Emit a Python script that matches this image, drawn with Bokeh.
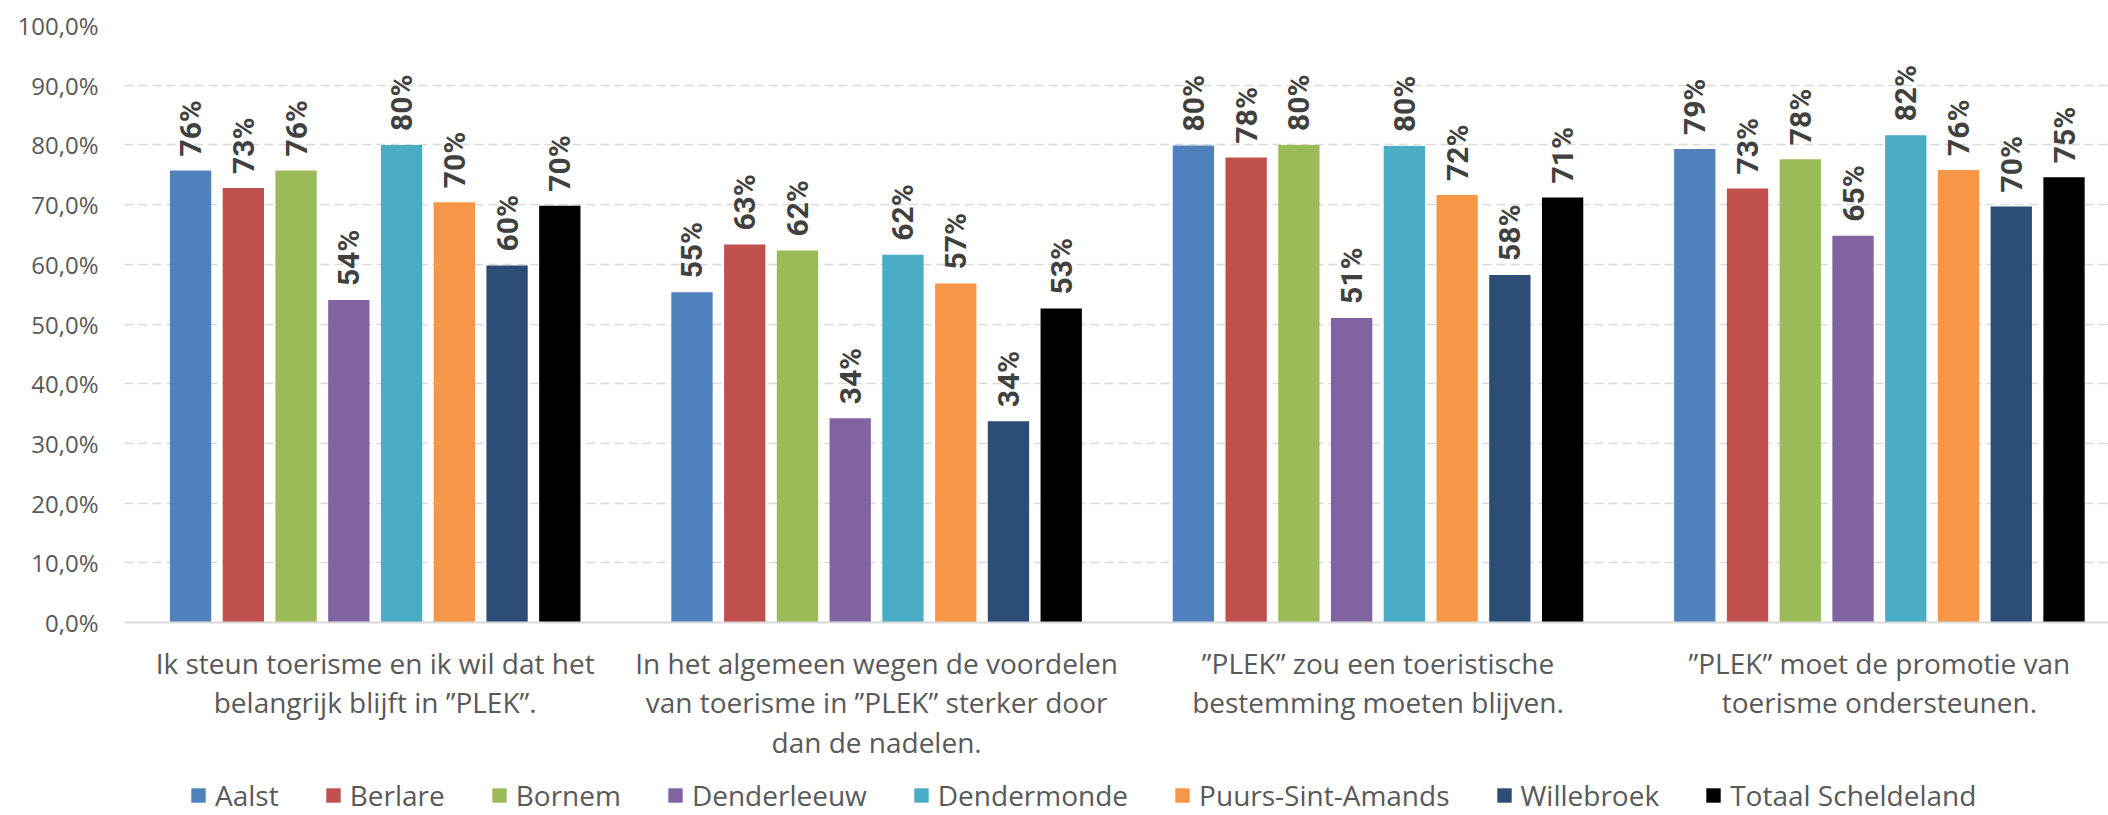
import math
from bokeh.plotting import figure
from bokeh.layouts import column
from bokeh.models import (ColumnDataSource, Range1d, FixedTicker, CustomJSTickFormatter,
                          Legend, LegendItem)
from bokeh.core.properties import value
from bokeh.embed import file_html
from bokeh.resources import INLINE

categories = [
    "Ik steun toerisme en ik wil dat het\nbelangrijk blijft in \u201dPLEK\u201d.",
    "In het algemeen wegen de voordelen\nvan toerisme in \u201dPLEK\u201d sterker door\ndan de nadelen.",
    "\u201dPLEK\u201d zou een toeristische\nbestemming moeten blijven.",
    "\u201dPLEK\u201d moet de promotie van\ntoerisme ondersteunen.",
]
series_names = ["Aalst", "Berlare", "Bornem", "Denderleeuw", "Dendermonde",
                "Puurs-Sint-Amands", "Willebroek", "Totaal Scheldeland"]
series_colors = ["#4F81BD", "#C0504D", "#9BBB59", "#8064A2", "#4BACC6",
                 "#F79646", "#2C4D75", "#000000"]

aalst = [75.7, 55.3, 79.9, 79.3]
berlare = [72.8, 63.3, 77.9, 72.7]
bornem = [75.7, 62.3, 80.0, 77.6]
denderleeuw = [54.0, 34.2, 51.0, 64.8]
dendermonde = [80.0, 61.6, 79.8, 81.6]
puurs = [70.4, 56.8, 71.6, 75.8]
willebroek = [59.8, 33.7, 58.2, 69.7]
totaal = [69.8, 52.6, 71.2, 74.6]
series_values = [aalst, berlare, bornem, denderleeuw, dendermonde, puurs, willebroek, totaal]

y_ticks = [0, 10, 20, 30, 40, 50, 60, 70, 80, 90, 100]

W = 2108
H_MAIN, H_LEG = 768, 47
left_border, top_border = 124, 25
frame_h = 597
cat_px = 501.4
frame_w = W - left_border
x_end = frame_w / cat_px

p = figure(width=W, height=H_MAIN, output_backend="svg", toolbar_location=None,
           x_range=Range1d(0, x_end), y_range=Range1d(0, 100),
           min_border_left=left_border, min_border_right=0,
           min_border_top=top_border, min_border_bottom=H_MAIN - top_border - frame_h)
p.outline_line_color = None
p.background_fill_color = "white"
p.border_fill_color = "white"

# grid
p.xgrid.grid_line_color = None
p.ygrid.ticker = FixedTicker(ticks=y_ticks)
p.ygrid.grid_line_color = "#d9d9d9"
p.ygrid.grid_line_width = 1.5
p.ygrid.grid_line_dash = "9 5"

# y axis
p.yaxis.ticker = FixedTicker(ticks=y_ticks)
p.yaxis.formatter = CustomJSTickFormatter(code="return tick.toFixed(1).replace('.', ',') + '%';")
p.yaxis.axis_line_color = None
p.yaxis.major_tick_line_color = None
p.yaxis.minor_tick_line_color = None
p.yaxis.major_tick_in = 0
p.yaxis.major_tick_out = 0
p.yaxis.major_label_standoff = 26
p.yaxis.major_label_text_font = "Open Sans"
p.yaxis.major_label_text_font_size = "24px"
p.yaxis.major_label_text_color = "#595959"

# x axis
x_ticks = [i + 0.5 for i in range(len(categories))]
p.xaxis.ticker = FixedTicker(ticks=x_ticks)
p.xaxis.major_label_overrides = {t: c for t, c in zip(x_ticks, categories)}
p.xaxis.axis_line_color = "#d9d9d9"
p.xaxis.axis_line_width = 2
p.xaxis.major_tick_line_color = None
p.xaxis.minor_tick_line_color = None
p.xaxis.major_tick_in = 0
p.xaxis.major_tick_out = 0
p.xaxis.major_label_standoff = 21
p.xaxis.major_label_text_font = "Open Sans"
p.xaxis.major_label_text_font_size = "28px"
p.xaxis.major_label_text_color = "#595959"
p.xaxis.major_label_text_line_height = 1.05

step = 0.1052
bar_w = 0.0824
for i, (name, col, vals) in enumerate(zip(series_names, series_colors, series_values)):
    xs = [c + 0.5 + (i - 3.5) * step for c in range(len(vals))]
    src = ColumnDataSource(dict(x=xs, top=vals, label=[f"{round(v)}%" for v in vals]))
    p.vbar(x="x", top="top", width=bar_w, bottom=0, source=src,
           fill_color=col, line_color=None)
    p.text(x="x", y="top", text="label", source=src, angle=math.pi / 2,
           text_align="left", text_baseline="middle", y_offset=-14,
           text_font=value("Roboto"), text_font_style="bold",
           text_font_size="30px", text_color="#404040")

# legend figure
lg = figure(width=W, height=H_LEG, output_backend="svg", toolbar_location=None,
            x_range=Range1d(0, 1), y_range=Range1d(0, 1),
            x_axis_location=None, y_axis_location=None,
            min_border_left=0, min_border_right=0, min_border_top=0, min_border_bottom=0)
lg.grid.visible = False
lg.outline_line_color = None
lg.background_fill_color = "white"
lg.border_fill_color = "white"
items = []
for name, col in zip(series_names, series_colors):
    r = lg.vbar(x=[5], top=[1], width=0.1, fill_color=col, line_color=None)
    items.append(LegendItem(label=name, renderers=[r]))
legend = Legend(items=items, orientation="horizontal", location=(65, 1),
                glyph_width=18, glyph_height=18, label_standoff=8, spacing=45,
                padding=0, margin=0, border_line_color=None,
                background_fill_alpha=0,
                label_text_font="Open Sans", label_text_font_size="28px",
                label_text_color="#595959")
lg.add_layout(legend)

layout = column(p, lg, spacing=0)
open("out.html", "w").write(file_html(layout, INLINE))
